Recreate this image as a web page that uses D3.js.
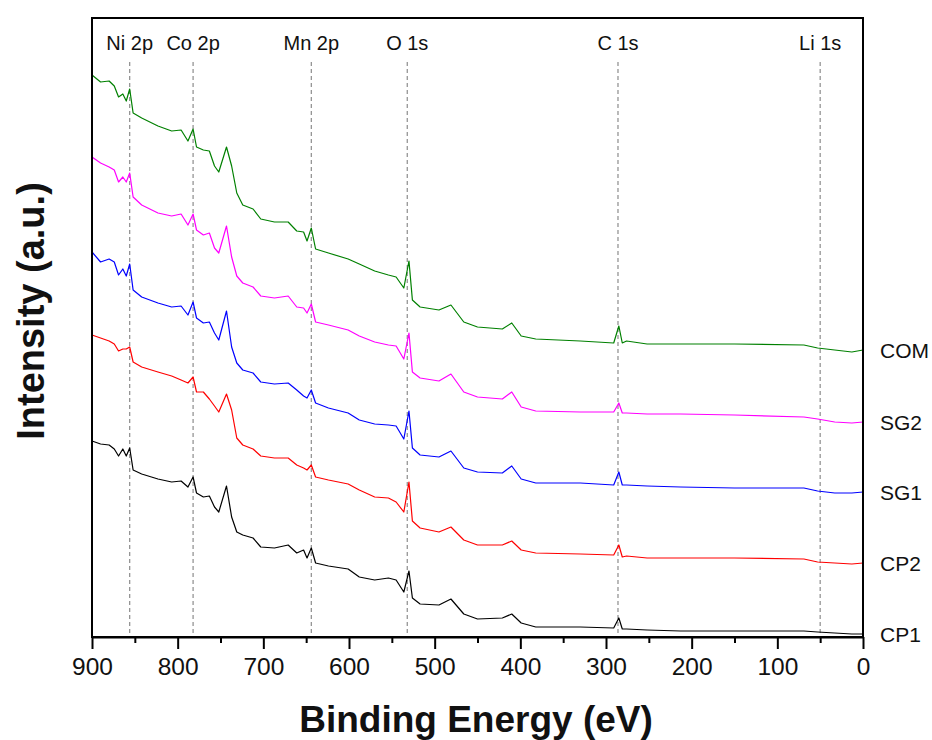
<!DOCTYPE html>
<html>
<head>
<meta charset="utf-8">
<script src="https://cdn.jsdelivr.net/npm/d3@7"></script>
<style>
	body { margin: 0; background: #fff; }
	text { font-family: Arial, "Liberation Sans", sans-serif; fill: #111; }
</style>
</head>
<body>
<svg id="chart" width="932" height="740"></svg>
<script>
"use strict";

// binding energy grid (eV), shared by all spectra
var energies = [900, 890, 880, 874, 869, 864, 860, 856, 852, 842,
	823, 807, 796, 788, 782, 778, 770, 763, 757, 752,
	743, 737, 731, 724, 712, 703, 687, 671, 661, 653,
	649, 644, 639, 624, 601, 588, 570, 554, 545, 536,
	530, 526, 517, 495, 481, 466, 450, 421, 410, 399,
	382, 330, 291, 285, 281, 276, 252, 213, 150, 69,
	53, 33, 13, 0];

// stacked intensities (a.u.)
var com = [562, 555, 556, 551, 540, 543, 536, 548, 524, 519,
	511, 506, 507, 496, 508, 490, 487, 486, 471, 465,
	490, 471, 444, 432, 428, 418, 415, 415, 406, 405,
	396, 409, 388, 384, 378, 373, 366, 362, 360, 349,
	376, 337, 330, 327, 332, 315, 310, 308, 314, 301,
	298, 296, 294, 311, 294, 296, 293, 293, 293, 292,
	289, 287, 285, 287];

var sg2 = [480, 474, 470, 467, 455, 460, 455, 464, 440, 432,
	424, 421, 423, 412, 423, 407, 402, 404, 389, 384,
	411, 380, 361, 354, 350, 341, 339, 341, 330, 329,
	324, 333, 315, 312, 307, 301, 295, 292, 291, 278,
	304, 265, 259, 256, 263, 245, 240, 238, 245, 230,
	226, 225, 225, 234, 224, 224, 223, 223, 222, 220,
	218, 215, 214, 215];

var sg1 = [385, 375, 378, 375, 362, 368, 361, 373, 347, 340,
	334, 330, 331, 322, 335, 319, 314, 315, 304, 297,
	326, 290, 274, 267, 264, 255, 253, 254, 247, 241,
	239, 247, 234, 229, 224, 217, 213, 212, 211, 198,
	226, 189, 182, 180, 186, 169, 165, 164, 171, 158,
	154, 154, 152, 165, 152, 152, 151, 150, 149, 149,
	146, 144, 144, 145];

var cp2 = [302, 299, 296, 293, 286, 288, 288, 290, 275, 270,
	265, 261, 257, 254, 260, 245, 245, 238, 231, 225,
	243, 227, 199, 192, 188, 181, 179, 179, 172, 169,
	167, 172, 160, 157, 153, 147, 140, 139, 135, 125,
	155, 116, 109, 105, 110, 97, 92, 92, 96, 87,
	84, 83, 82, 92, 80, 81, 79, 79, 79, 78,
	75, 74, 73, 74];

var cp1 = [196, 193, 192, 188, 181, 188, 181, 189, 167, 163,
	158, 155, 156, 150, 160, 144, 140, 141, 130, 125,
	151, 120, 105, 102, 99, 90, 89, 92, 84, 87,
	79, 89, 74, 71, 68, 60, 57, 59, 57, 45,
	66, 39, 33, 32, 38, 23, 18, 19, 23, 14,
	10, 10, 9, 19, 8, 8, 7, 6, 6, 6,
	5, 4, 3, 3];

var seriesNames = ["COM", "SG2", "SG1", "CP2", "CP1"];
var seriesValues = [com, sg2, sg1, cp2, cp1];
var seriesColors = ["#008000", "#ff00ff", "#0000ff", "#ff0000", "#000000"];

var peakNames = ["Ni 2p", "Co 2p", "Mn 2p", "O 1s", "C 1s", "Li 1s"];
var peakEnergies = [856, 782, 644, 532, 286, 50];

var majorTicks = [900, 800, 700, 600, 500, 400, 300, 200, 100, 0];
var minorTicks = [850, 750, 650, 550, 450, 350, 250, 150, 50];

const plotLeft = 92, plotRight = 863, plotTop = 18, plotBottom = 637;

let svg = d3.select("#chart");

let x = d3.scaleLinear().domain([900, 0]).range([plotLeft, plotRight]);
let y = d3.scaleLinear().domain([0, 619]).range([plotBottom, plotTop]);

// dashed peak markers
svg.append("g")
	.selectAll("line")
	.data(peakEnergies)
	.enter()
	.append("line")
		.attr("x1", d => x(d))
		.attr("x2", d => x(d))
		.attr("y1", 62)
		.attr("y2", plotBottom)
		.attr("stroke", "#8c8c8c")
		.attr("stroke-width", 1.2)
		.attr("stroke-dasharray", "4,3");

svg.append("g")
	.selectAll("text")
	.data(peakNames)
	.enter()
	.append("text")
		.attr("x", (d, i) => x(peakEnergies[i]))
		.attr("y", 50)
		.attr("text-anchor", "middle")
		.style("font-size", "20px")
		.text(d => d);

// spectra
let line = d3.line()
	.x((d, i) => x(energies[i]))
	.y(d => y(d));

svg.append("g")
	.selectAll("path")
	.data(seriesValues)
	.enter()
	.append("path")
		.attr("d", d => line(d))
		.attr("fill", "none")
		.attr("stroke", (d, i) => seriesColors[i])
		.attr("stroke-width", 1.2)
		.attr("stroke-linejoin", "round");

svg.append("g")
	.selectAll("text")
	.data(seriesNames)
	.enter()
	.append("text")
		.attr("x", 880)
		.attr("y", (d, i) => y(seriesValues[i][seriesValues[i].length - 1]))
		.attr("dy", "0.36em")
		.style("font-size", "21px")
		.text(d => d);

// frame
svg.append("rect")
	.attr("x", plotLeft)
	.attr("y", plotTop)
	.attr("width", plotRight - plotLeft)
	.attr("height", plotBottom - plotTop)
	.attr("fill", "none")
	.attr("stroke", "#000")
	.attr("stroke-width", 2);

// bottom axis, major + minor ticks
let xAxis = d3.axisBottom(x)
	.tickValues(majorTicks)
	.tickFormat(d3.format("d"))
	.tickSize(12)
	.tickSizeOuter(0)
	.tickPadding(9);

let gx = svg.append("g")
	.attr("transform", `translate(0,${plotBottom})`)
	.call(xAxis);
gx.select(".domain").attr("stroke-width", 2);
gx.selectAll(".tick line").attr("stroke-width", 2);
gx.selectAll(".tick text")
	.style("font-size", "24.5px")
	.style("font-family", "Arial, 'Liberation Sans', sans-serif")
	.attr("fill", "#111");

svg.append("g")
	.attr("transform", `translate(0,${plotBottom})`)
	.call(d3.axisBottom(x).tickValues(minorTicks).tickFormat("").tickSize(6).tickSizeOuter(0))
	.call(g => g.select(".domain").remove())
	.selectAll(".tick line").attr("stroke-width", 2);

// axis titles
svg.append("text")
	.attr("x", 476)
	.attr("y", 732)
	.attr("text-anchor", "middle")
	.style("font-size", "37px")
	.style("font-weight", "bold")
	.text("Binding Energy (eV)");

svg.append("text")
	.attr("transform", "translate(44,311) rotate(-90)")
	.attr("text-anchor", "middle")
	.style("font-size", "38px")
	.style("font-weight", "bold")
	.text("Intensity (a.u.)");
</script>
</body>
</html>
